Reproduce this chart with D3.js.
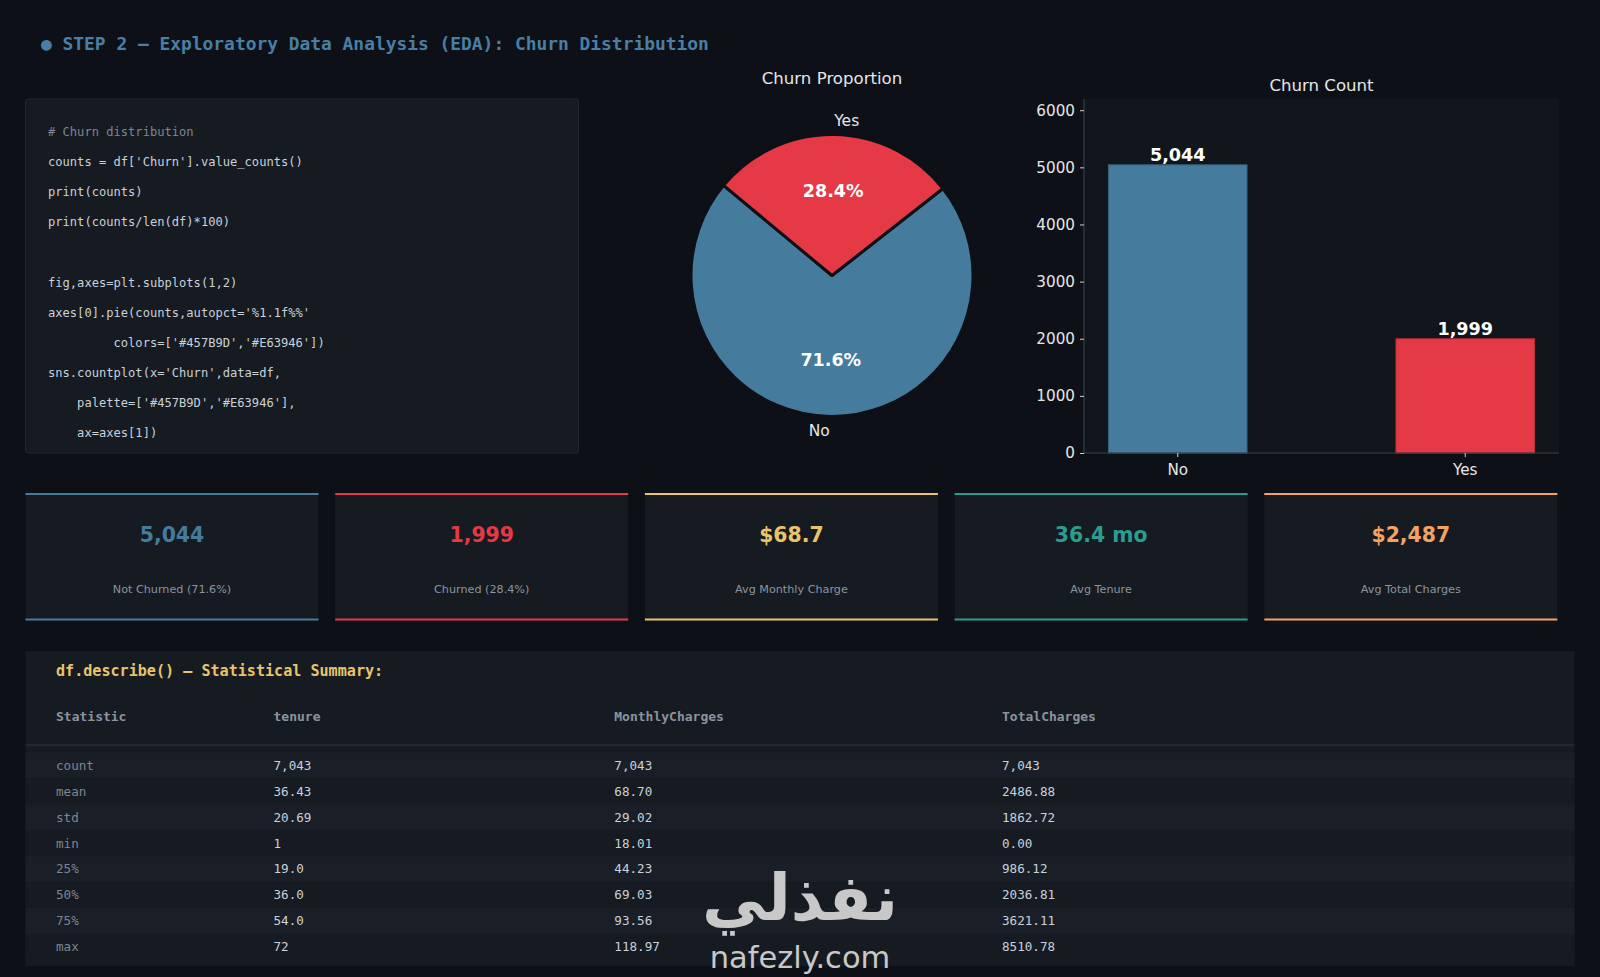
<!DOCTYPE html>
<html>
<head>
<meta charset="utf-8">
<script src="https://cdn.jsdelivr.net/npm/d3@7"></script>
<style>
  html, body { margin: 0; padding: 0; background: #0d1117; }
  svg { display: block; }
</style>
</head>
<body>
<svg id="chart" width="1600" height="977"></svg>
<script>
"use strict";
// churn data
var churnLabels = ["No", "Yes"];
var churnCounts = [5044, 1999];
var churnColors = ["#457B9D", "#E63946"];
var yTicks = [0, 1000, 2000, 3000, 4000, 5000, 6000];

var codeLines = [
  "# Churn distribution",
  "counts = df['Churn'].value_counts()",
  "print(counts)",
  "print(counts/len(df)*100)",
  "",
  "fig,axes=plt.subplots(1,2)",
  "axes[0].pie(counts,autopct='%1.1f%%'",
  "         colors=['#457B9D','#E63946'])",
  "sns.countplot(x='Churn',data=df,",
  "    palette=['#457B9D','#E63946'],",
  "    ax=axes[1])"
];

var kpiValues = ["5,044", "1,999", "$68.7", "36.4 mo", "$2,487"];
var kpiLabels = ["Not Churned (71.6%)", "Churned (28.4%)", "Avg Monthly Charge", "Avg Tenure", "Avg Total Charges"];
var kpiColors = ["#457B9D", "#E63946", "#E9C46A", "#2A9D8F", "#F4A261"];

var statHeaders = ["Statistic", "tenure", "MonthlyCharges", "TotalCharges"];
var statNames = ["count", "mean", "std", "min", "25%", "50%", "75%", "max"];
var tenureVals = ["7,043", "36.43", "20.69", "1", "19.0", "36.0", "54.0", "72"];
var monthlyVals = ["7,043", "68.70", "29.02", "18.01", "44.23", "69.03", "93.56", "118.97"];
var totalVals = ["7,043", "2486.88", "1862.72", "0.00", "986.12", "2036.81", "3621.11", "8510.78"];

var svg = d3.select("#chart");
var mono = "'DejaVu Sans Mono', monospace";
var sans = "'DejaVu Sans', sans-serif";

svg.append("rect").attr("width", 1600).attr("height", 977).attr("fill", "#0d1117");

// heading
svg.append("text")
    .attr("x", 41).attr("y", 50)
    .style("font-family", mono).style("font-size", "17.9px").style("font-weight", "bold")
    .attr("fill", "#4A7FA5")
    .text("\u25CF STEP 2 \u2014 Exploratory Data Analysis (EDA): Churn Distribution");

// code panel
var code = svg.append("g");
code.append("rect")
    .attr("x", 25.5).attr("y", 99).attr("width", 553).attr("height", 354)
    .attr("rx", 3)
    .attr("fill", "#161b22").attr("stroke", "#21262d");
code.selectAll("text.code")
    .data(codeLines)
    .enter().append("text")
    .attr("class", "code")
    .attr("x", 48)
    .attr("y", function (d, i) { return 136 + i * 30.1; })
    .style("font-family", mono).style("font-size", "12.1px")
    .style("white-space", "pre")
    .attr("xml:space", "preserve")
    .attr("fill", function (d) { return d.charAt(0) === "#" ? "#7d8590" : "#c9d1d9"; })
    .text(function (d) { return d; });

// pie
var pieCx = 832, pieCy = 275.5, pieR = 141;
var startA = 51.9 * Math.PI / 180;
var pie = d3.pie().sort(null).startAngle(startA).endAngle(startA + 2 * Math.PI);
var arcs = pie(churnCounts);
var arc = d3.arc().innerRadius(0).outerRadius(pieR);
var pctArc = d3.arc().innerRadius(pieR * 0.6).outerRadius(pieR * 0.6);
var lblArc = d3.arc().innerRadius(pieR * 1.1).outerRadius(pieR * 1.1);
var total = d3.sum(churnCounts);

var pg = svg.append("g").attr("transform", "translate(" + pieCx + "," + pieCy + ")");
pg.selectAll("path")
    .data(arcs)
    .enter().append("path")
    .attr("d", arc)
    .attr("fill", function (d, i) { return churnColors[i]; })
    .attr("stroke", "#0d1117").attr("stroke-width", 3).attr("stroke-linejoin", "round");
pg.selectAll("text.pct")
    .data(arcs)
    .enter().append("text")
    .attr("class", "pct")
    .attr("transform", function (d) { return "translate(" + pctArc.centroid(d) + ")"; })
    .attr("text-anchor", "middle").attr("dy", "0.35em")
    .style("font-family", sans).style("font-size", "17.5px").style("font-weight", "bold")
    .attr("fill", "#ffffff")
    .text(function (d) { return (d.data / total * 100).toFixed(1) + "%"; });
pg.selectAll("text.lbl")
    .data(arcs)
    .enter().append("text")
    .attr("class", "lbl")
    .attr("transform", function (d) { return "translate(" + lblArc.centroid(d) + ")"; })
    .attr("text-anchor", function (d) { return lblArc.centroid(d)[0] > 0 ? "start" : "end"; })
    .attr("dy", "0.35em")
    .style("font-family", sans).style("font-size", "15.5px")
    .attr("fill", "#e6e6e6")
    .text(function (d, i) { return churnLabels[i]; });
svg.append("text")
    .attr("x", pieCx).attr("y", 84)
    .attr("text-anchor", "middle")
    .style("font-family", sans).style("font-size", "16.6px")
    .attr("fill", "#e6e6e6")
    .text("Churn Proportion");

// bar chart
var bx0 = 1084, bx1 = 1559, by0 = 99, by1 = 453;
var x = d3.scaleBand().domain(churnLabels).range([bx0, bx1]).paddingInner(0.518).paddingOuter(0.085);
var y = d3.scaleLinear().domain([0, 6196]).range([by1, by0]);

svg.append("rect")
    .attr("x", bx0).attr("y", by0).attr("width", bx1 - bx0).attr("height", by1 - by0)
    .attr("fill", "#11151c");
svg.append("text")
    .attr("x", (bx0 + bx1) / 2).attr("y", 91)
    .attr("text-anchor", "middle")
    .style("font-family", sans).style("font-size", "16.6px")
    .attr("fill", "#e6e6e6")
    .text("Churn Count");

svg.selectAll("rect.bar")
    .data(churnCounts)
    .enter().append("rect")
    .attr("class", "bar")
    .attr("x", function (d, i) { return x(churnLabels[i]); })
    .attr("y", function (d) { return y(d); })
    .attr("width", x.bandwidth())
    .attr("height", function (d) { return y(0) - y(d); })
    .attr("fill", function (d, i) { return churnColors[i]; })
    .attr("stroke", function (d, i) { return d3.color(churnColors[i]).darker(0.6); })
    .attr("stroke-width", 1);
svg.selectAll("text.val")
    .data(churnCounts)
    .enter().append("text")
    .attr("class", "val")
    .attr("x", function (d, i) { return x(churnLabels[i]) + x.bandwidth() / 2; })
    .attr("y", function (d) { return y(d) - 4; })
    .attr("text-anchor", "middle")
    .style("font-family", sans).style("font-size", "17.6px").style("font-weight", "bold")
    .attr("fill", "#ffffff")
    .text(function (d) { return d3.format(",")(d); });

var yAxis = svg.append("g")
    .attr("transform", "translate(" + bx0 + ",0)")
    .call(d3.axisLeft(y).tickValues(yTicks).tickSize(4).tickPadding(5).tickFormat(d3.format("d")));
var xAxis = svg.append("g")
    .attr("transform", "translate(0," + by1 + ")")
    .call(d3.axisBottom(x).tickSize(4).tickPadding(7));
[yAxis, xAxis].forEach(function (ax) {
  ax.select(".domain").attr("stroke", "#3a3f47").attr("stroke-width", 1.2);
  ax.selectAll(".tick line").attr("stroke", "#c9d1d9");
  ax.selectAll(".tick text")
      .style("font-family", sans).style("font-size", "15.2px")
      .attr("fill", "#e6e6e6");
});
yAxis.select(".domain").attr("d", "M0," + by0 + "V" + by1);
xAxis.select(".domain").attr("d", "M" + bx0 + ",0H" + bx1);

// kpi cards
var cardW = 293, cardStep = 309.7, cardY = 493, cardH = 127.5;
var cards = svg.selectAll("g.card")
    .data(kpiValues)
    .enter().append("g")
    .attr("class", "card")
    .attr("transform", function (d, i) { return "translate(" + (25.5 + i * cardStep) + "," + cardY + ")"; });
cards.append("rect")
    .attr("width", cardW).attr("height", cardH)
    .attr("fill", "#161b22");
cards.append("rect")
    .attr("width", cardW).attr("height", 2)
    .attr("fill", function (d, i) { return kpiColors[i]; });
cards.append("rect")
    .attr("y", cardH - 2).attr("width", cardW).attr("height", 2)
    .attr("fill", function (d, i) { return kpiColors[i]; });
cards.append("text")
    .attr("x", cardW / 2).attr("y", 49)
    .attr("text-anchor", "middle")
    .style("font-family", sans).style("font-size", "20.4px").style("font-weight", "bold")
    .attr("fill", function (d, i) { return kpiColors[i]; })
    .text(function (d) { return d; });
cards.append("text")
    .attr("x", cardW / 2).attr("y", 100)
    .attr("text-anchor", "middle")
    .style("font-family", sans).style("font-size", "11.2px")
    .attr("fill", "#8b949e")
    .text(function (d, i) { return kpiLabels[i]; });

// describe table
var tbl = svg.append("g");
tbl.append("rect")
    .attr("x", 25.5).attr("y", 651).attr("width", 1549).attr("height", 315)
    .attr("fill", "#161b22");
tbl.append("text")
    .attr("x", 56).attr("y", 675.5)
    .style("font-family", mono).style("font-size", "15.1px").style("font-weight", "bold")
    .attr("fill", "#E9C46A")
    .text("df.describe() \u2014 Statistical Summary:");
var colX = [56, 273.5, 614.3, 1002];
tbl.selectAll("text.hdr")
    .data(statHeaders)
    .enter().append("text")
    .attr("class", "hdr")
    .attr("x", function (d, i) { return colX[i]; })
    .attr("y", 720.5)
    .style("font-family", mono).style("font-size", "13px").style("font-weight", "bold")
    .attr("fill", "#8b949e")
    .text(function (d) { return d; });
tbl.append("line")
    .attr("x1", 25.5).attr("x2", 1574.5).attr("y1", 745).attr("y2", 745)
    .attr("stroke", "#30363d");

var rowY = d3.scaleBand().domain(statNames).range([752.3, 959.9]);
var rows = tbl.selectAll("g.row")
    .data(statNames)
    .enter().append("g")
    .attr("class", "row")
    .attr("transform", function (d) { return "translate(0," + rowY(d) + ")"; });
rows.append("rect")
    .attr("x", 25.5).attr("width", 1549).attr("height", rowY.bandwidth())
    .attr("fill", function (d, i) { return i % 2 === 0 ? "#1a1f27" : "#161b22"; });
rows.append("text")
    .attr("x", colX[0]).attr("y", rowY.bandwidth() / 2).attr("dy", "0.35em")
    .style("font-family", mono).style("font-size", "12.6px")
    .attr("fill", "#7d8590")
    .text(function (d) { return d; });
[tenureVals, monthlyVals, totalVals].forEach(function (vals, c) {
  rows.append("text")
      .attr("x", colX[c + 1]).attr("y", rowY.bandwidth() / 2).attr("dy", "0.35em")
      .style("font-family", mono).style("font-size", "12.6px")
      .attr("fill", "#c9d1d9")
      .text(function (d, i) { return vals[i]; });
});

// watermark
svg.append("text")
    .attr("x", 800).attr("y", 920)
    .attr("text-anchor", "middle")
    .style("font-family", sans).style("font-size", "64px").style("font-weight", "bold")
    .attr("fill", "#c8c8c8")
    .text("\u0646\u0641\u0630\u0644\u064A");
svg.append("text")
    .attr("x", 800).attr("y", 968)
    .attr("text-anchor", "middle")
    .style("font-family", sans).style("font-size", "30.5px")
    .attr("fill", "#c8c8c8")
    .text("nafezly.com");
</script>
</body>
</html>
